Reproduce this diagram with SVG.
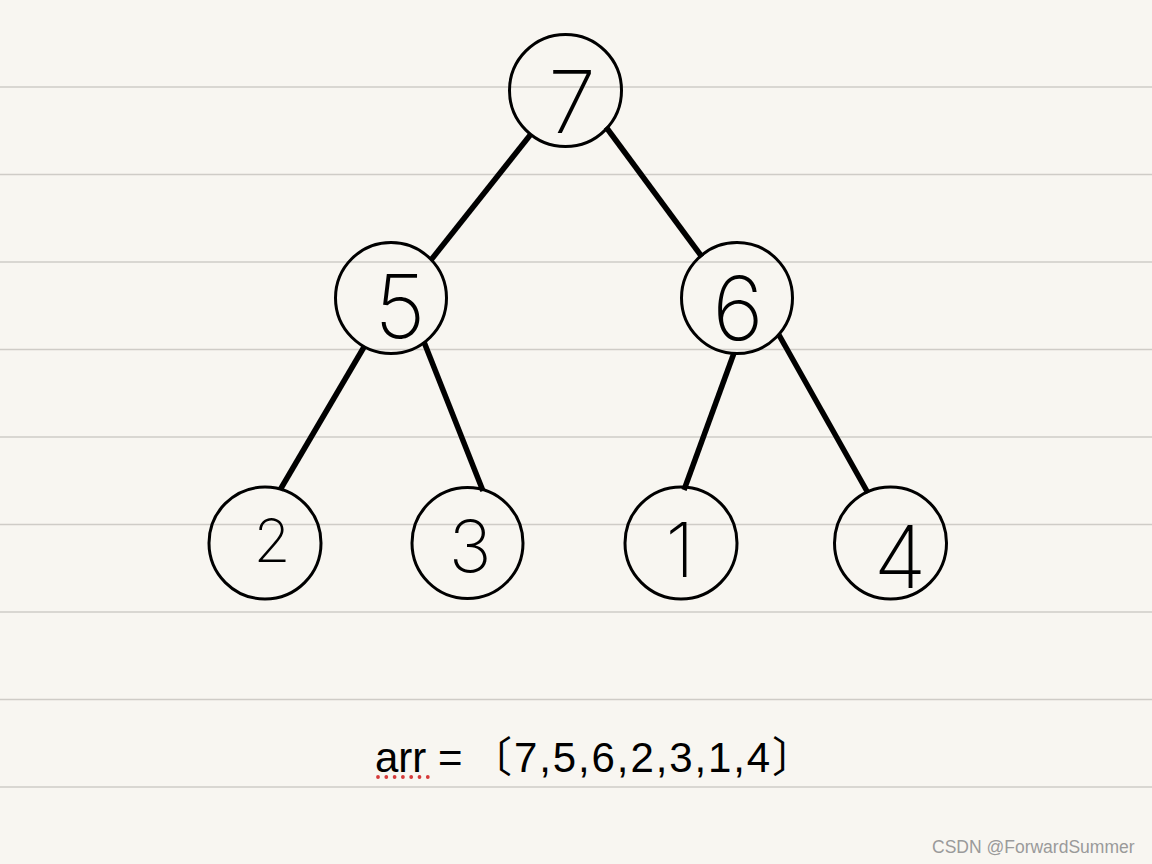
<svg xmlns="http://www.w3.org/2000/svg" width="1152" height="864" viewBox="0 0 1152 864">
<style>
.rule{stroke:#cfccc7;stroke-width:1.6}
.node{fill:none;stroke:#000;stroke-width:3}
.edge{stroke:#000;stroke-width:5.5;stroke-linecap:butt}
.digit{font-family:"Inter","Roboto","DejaVu Sans",sans-serif;font-weight:200;fill:#000;text-anchor:middle}
.arr{font-family:"Liberation Sans","Noto Sans CJK SC",sans-serif;font-size:42px;fill:#000}
.wm{font-family:"Liberation Sans",Arial,sans-serif;font-size:17.5px;fill:#9a9a9a}
</style>
<rect width="1152" height="864" fill="#f8f6f1"/>
<g id="rules">
<line class="rule" x1="0" y1="87" x2="1152" y2="87"/>
<line class="rule" x1="0" y1="174.5" x2="1152" y2="174.5"/>
<line class="rule" x1="0" y1="262" x2="1152" y2="262"/>
<line class="rule" x1="0" y1="349.5" x2="1152" y2="349.5"/>
<line class="rule" x1="0" y1="437" x2="1152" y2="437"/>
<line class="rule" x1="0" y1="524.5" x2="1152" y2="524.5"/>
<line class="rule" x1="0" y1="612" x2="1152" y2="612"/>
<line class="rule" x1="0" y1="699.5" x2="1152" y2="699.5"/>
<line class="rule" x1="0" y1="787" x2="1152" y2="787"/>
</g>
<g id="connectors">
<line class="edge" x1="531" y1="134" x2="431" y2="260"/>
<line class="edge" x1="606" y1="127" x2="702" y2="257"/>
<line class="edge" x1="364" y1="347" x2="280" y2="490"/>
<line class="edge" x1="424" y1="342" x2="483" y2="491"/>
<line class="edge" x1="734" y1="353" x2="684" y2="490"/>
<line class="edge" x1="779" y1="335" x2="868" y2="493"/>
</g>
<g id="node-7">
<circle class="node" cx="565.5" cy="90.5" r="56"/>
<text class="digit" x="572" y="133" font-size="86">7</text>
</g>
<g id="node-5">
<circle class="node" cx="391" cy="298" r="55.5"/>
<text class="digit" x="400" y="338" font-size="88">5</text>
</g>
<g id="node-6">
<circle class="node" cx="737" cy="298" r="55.5"/>
<text class="digit" x="738" y="340" font-size="88">6</text>
</g>
<g id="node-2">
<circle class="node" cx="265" cy="543" r="56"/>
<text class="digit" x="272" y="562" font-size="60">2</text>
</g>
<g id="node-3">
<circle class="node" cx="467.5" cy="543" r="55.5"/>
<text class="digit" x="470" y="572" font-size="72">3</text>
</g>
<g id="node-1">
<circle class="node" cx="681" cy="543" r="56"/>
<text class="digit" x="680" y="577" font-size="76">1</text>
</g>
<g id="node-4">
<circle class="node" cx="890.5" cy="543" r="56"/>
<text class="digit" x="900" y="588" font-size="86">4</text>
</g>
<g id="array">
<text class="arr" x="375" y="772">arr =</text>
<text class="arr" x="470" y="772" letter-spacing="1.9">〔7,5,6,2,3,1,4〕</text>
<line x1="378" y1="777" x2="428" y2="777" stroke="#d63a3a" stroke-width="3.8" stroke-linecap="round" stroke-dasharray="0 8.3"/>
</g>
<text class="wm" x="932" y="853">CSDN @ForwardSummer</text>
</svg>
